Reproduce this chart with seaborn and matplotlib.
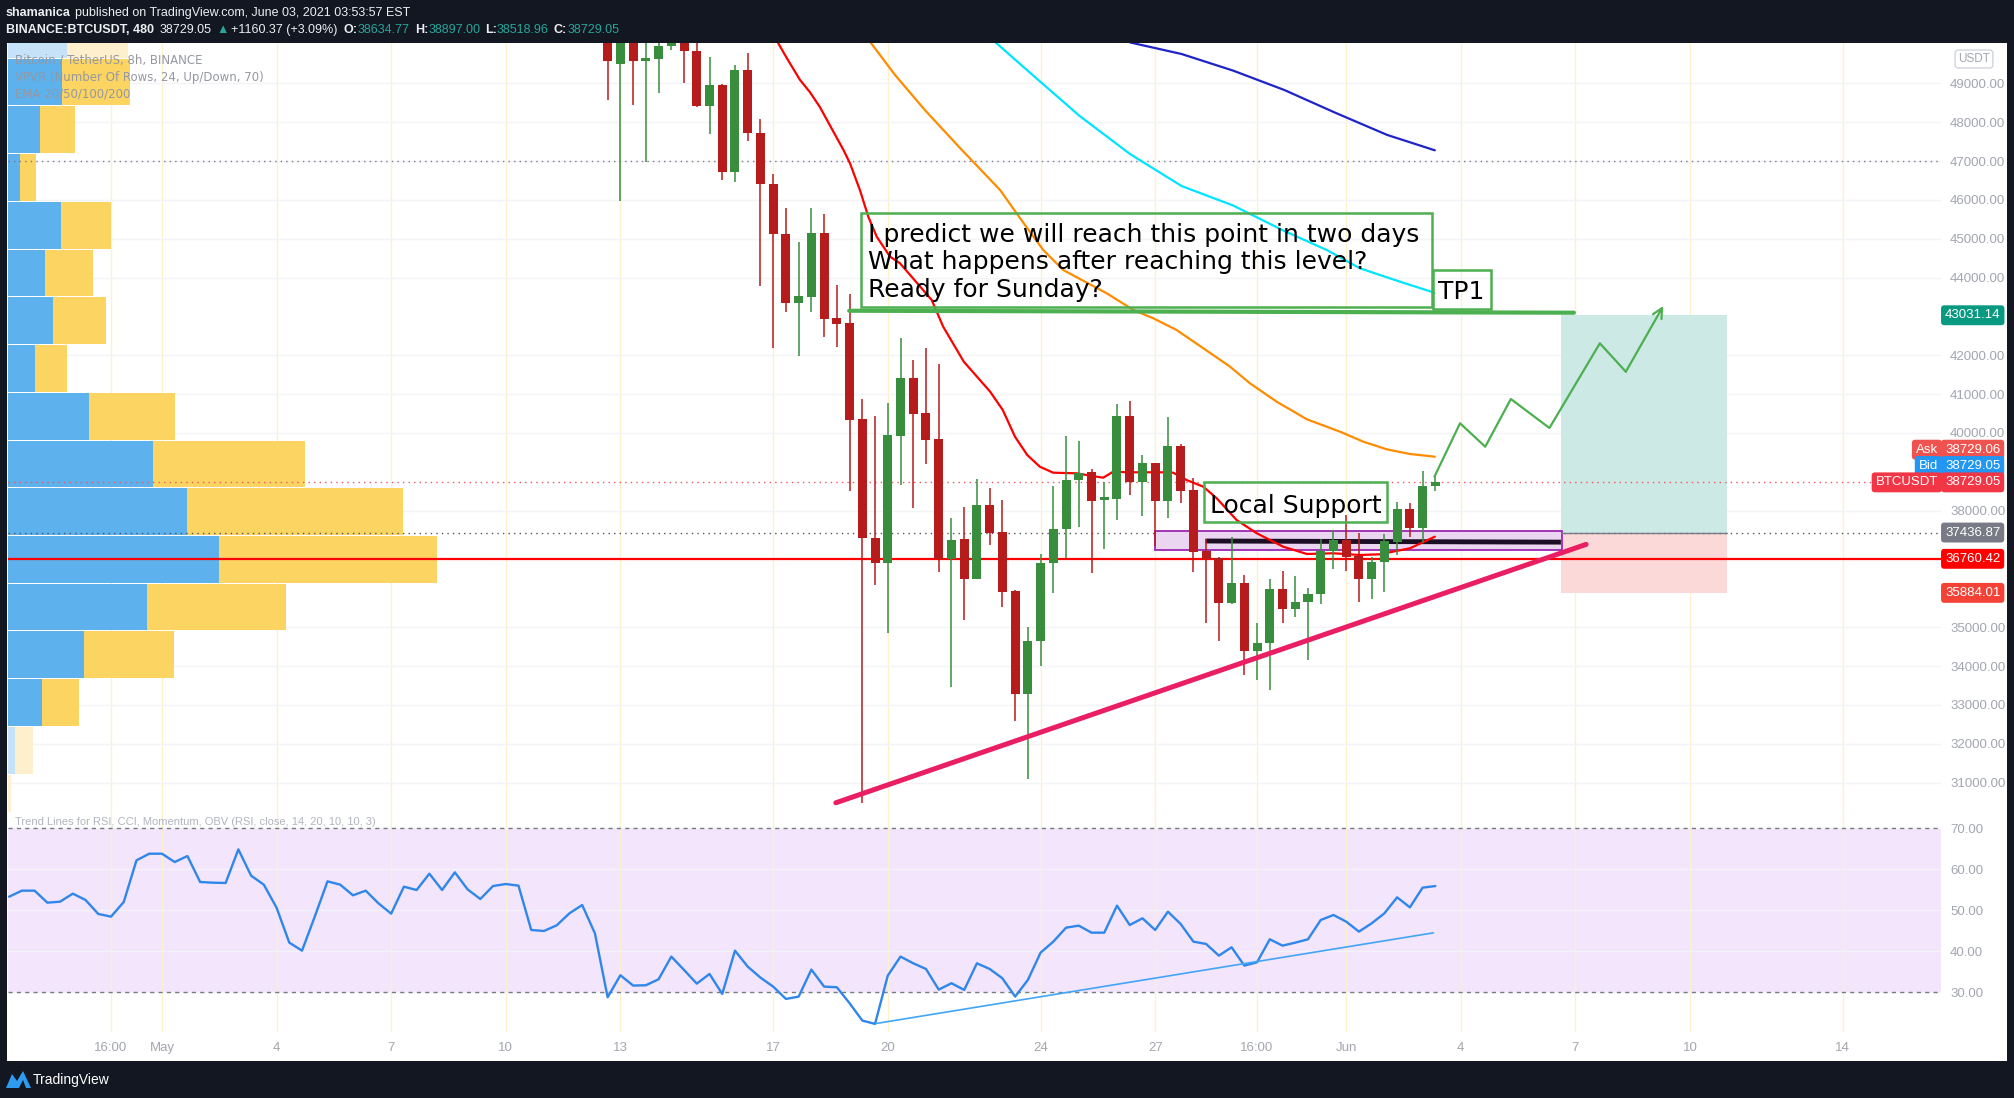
import numpy as np
import pandas as pd
import matplotlib
matplotlib.use("Agg")
import matplotlib.pyplot as plt
import matplotlib.patches as mpatches
import matplotlib.transforms as mtransforms
import seaborn as sns

W, H = 2014, 1098
T0 = pd.Timestamp("2021-05-01")

# ---- 8h candles, BINANCE:BTCUSDT (first visible bar: May 12 16:00) ----
candle_start = "2021-05-12 16:00"
opens = [53500, 49510, 50900, 49586, 49636, 49953, 50300, 49839, 48422, 48954,
         46728, 49346, 47727, 46412, 45122, 43339, 43510, 45149, 42961, 42832,
         40360, 37297, 36661, 39931, 41416, 40515, 39845, 36764, 37271, 36250,
         38146, 37451, 35932, 33289, 34654, 36645, 37529, 38790, 38997, 38276,
         38310, 40438, 38748, 39220, 38258, 39666, 38533, 36962, 36774, 35632,
         36147, 34396, 34585, 35976, 35461, 35641, 35847, 36963, 37246, 36843,
         36233, 36671, 37203, 38035, 37546, 38634.77]
highs = [55000, 51400, 51300, 50400, 50800, 50500, 50600, 50200, 49674, 48991,
         49472, 49788, 48081, 46665, 45792, 44926, 45793, 45638, 43810, 43579,
         40875, 40438, 40772, 42446, 41879, 42188, 41776, 37811, 38095, 38815,
         38584, 38275, 35950, 35005, 36885, 38645, 39923, 39795, 39082, 38730,
         40747, 40824, 39434, 39240, 40413, 39717, 38851, 37271, 36817, 37332,
         36345, 35100, 36233, 36456, 36328, 36001, 37263, 37503, 37889, 37417,
         36817, 37392, 38215, 38190, 39022, 38897.00]
lows = [48561, 45982, 48435, 46968, 48764, 49851, 49004, 48385, 47689, 46526,
        46450, 47525, 43794, 42176, 43124, 41974, 43124, 42480, 42223, 38515,
        30479, 36087, 34842, 38670, 38077, 39210, 36430, 33469, 35194, 36230,
        37125, 35511, 32594, 31100, 34002, 35873, 36774, 37589, 36405, 37005,
        37769, 38413, 37872, 37100, 37804, 38190, 36431, 35100, 34654, 35589,
        33779, 33641, 33384, 35100, 35272, 34156, 35598, 36490, 36456, 35658,
        35718, 35898, 36860, 37315, 37160, 38518.96]
closes = [49586, 50900, 49586, 49624, 49965, 50100, 49826, 48422, 48954, 46728,
          49346, 47714, 46399, 45135, 43339, 43529, 45149, 42943, 42815, 40343,
          37305, 36661, 39948, 41416, 40498, 39828, 36764, 37245, 36250, 38146,
          37434, 35915, 33289, 34645, 36645, 37529, 38790, 38962, 38258, 38318,
          40438, 38748, 39220, 38258, 39666, 38516, 36945, 36756, 35632, 36147,
          34396, 34585, 35976, 35461, 35641, 35847, 36963, 37246, 36817, 36233,
          36671, 37220, 38035, 37546, 38627, 38729.05]

# ---- EMA 20/50/100/200 (days since May 1, value) ----
ema20_day = [16.13, 16.35, 16.70, 16.96, 17.22, 17.84, 18.01, 18.27, 18.49, 18.71,
             19.06, 19.32, 20.15, 20.45, 20.99, 21.68, 22.01, 22.33, 22.65, 22.98,
             23.33, 23.94, 24.47, 24.64, 24.90, 25.34, 26.21, 26.47, 26.82, 27.26,
             27.61, 28.13, 28.66, 29.35, 29.97, 30.66, 31.36, 31.88, 32.67, 33.32]
ema20_val = [50041, 49663, 49093, 48777, 48396, 47286, 46944, 46256, 45569, 45054,
             44539, 44369, 43424, 42737, 41836, 41063, 40592, 39905, 39434, 39132,
             38978, 38962, 38875, 38849, 39004, 38988, 38988, 38978, 38790, 38617,
             38319, 37760, 37418, 37073, 36885, 36903, 36859, 36877, 37032, 37330]
ema50_day = [18.56, 19.19, 19.97, 20.89, 21.94, 22.59, 23.07, 23.59, 24.73, 25.43, 25.95,
             26.56, 27.26, 27.96, 28.48, 29.18, 29.97, 30.84, 31.45, 32.06, 32.67, 33.32]
ema50_val = [50041, 49217, 48316, 47338, 46256, 45355, 44712, 44197, 43597, 43167, 42953,
             42652, 42181, 41707, 41280, 40806, 40353, 40033, 39776, 39580, 39459, 39390]
ema100_day = [21.81, 22.66, 24.01, 25.34, 26.69, 28.04, 29.38, 30.49, 31.36, 32.41, 33.31]
ema100_val = [50067, 49330, 48172, 47183, 46359, 45857, 45201, 44712, 44240, 43895, 43612]
ema200_day = [25.34, 26.69, 28.04, 29.38, 30.73, 32.07, 33.32]
ema200_val = [50056, 49758, 49330, 48831, 48239, 47675, 47278]

# ---- VPVR, 24 rows from 30000 (17 visible), up / down volume (relative) ----
vp_low, vp_step = 30000, 1229
vp_up = [0, 7, 34, 76, 139, 211, 179, 145, 81, 27, 45, 37, 53, 12, 32, 54, 59]
vp_down = [3, 18, 37, 90, 139, 218, 216, 152, 86, 32, 53, 48, 50, 16, 35, 68, 61]
vp_in_value_area = [False, False, True, True, True, True, True, True, True, True,
                    True, True, True, True, True, True, False]

# ---- RSI(14), 8h, from Apr 27 00:00 ----
rsi_start = "2021-04-27 00:00"
rsi = [53.33, 54.80, 54.80, 51.87, 52.11, 54.07, 52.52, 49.11, 48.46, 52.03,
       62.20, 63.82, 63.82, 61.79, 63.25, 56.91, 56.75, 56.67, 64.88, 58.46,
       56.26, 50.65, 42.11, 40.16, 48.46, 57.07, 56.26, 53.66, 54.80, 51.71,
       49.19, 55.77, 54.96, 58.94, 54.96, 59.27, 55.12, 52.76, 55.93, 56.42,
       56.02, 45.20, 44.96, 46.34, 49.27, 51.30, 44.39, 28.78, 34.15, 31.63,
       31.71, 33.17, 38.70, 35.45, 32.11, 34.47, 29.59, 40.16, 36.26, 33.58,
       31.38, 28.37, 28.94, 35.53, 31.38, 31.22, 27.32, 23.09, 22.28, 34.07,
       38.70, 37.07, 35.69, 30.65, 32.20, 30.57, 37.07, 35.69, 33.41, 28.94,
       33.00, 39.67, 42.36, 45.77, 46.26, 44.55, 44.55, 51.14, 46.42, 48.05,
       45.20, 49.67, 46.67, 42.36, 41.79, 38.94, 40.98, 36.50, 37.32, 42.93,
       41.38, 42.11, 42.93, 47.64, 48.86, 47.24, 44.80, 46.83, 49.27, 53.17,
       50.73, 55.53, 55.93]

# ---- drawings ----
support_trend_day, support_trend_val = [17.64, 37.28], [30479, 37132]
rsi_trend_day, rsi_trend_val = [18.71, 33.28], [22.4, 44.5]
tp_line_day, tp_line_val = [17.99, 36.96], [43148, 43097]
path_day = [33.31, 33.98, 34.64, 35.31, 36.32, 37.64, 38.32, 39.30]
path_val = [38875, 40250, 39647, 40875, 40129, 42309, 41578, 43270]
target_price, entry_price, stop_price = 43031.14, 37436.87, 35884.01
level_red = 36760.42
last_price = 38729.05

price_ticks = [31000, 32000, 33000, 34000, 35000, 38000, 40000, 41000, 42000,
               44000, 45000, 46000, 47000, 48000, 49000]
tick_days = [-4 / 3, 0, 3, 6, 9, 12, 16, 19, 23, 26, 28 + 2 / 3, 31, 34, 37, 40, 44]
tick_labels = ["16:00", "May", "4", "7", "10", "13", "17", "20", "24", "27",
               "16:00", "Jun", "4", "7", "10", "14"]

cx = np.asarray((pd.date_range(candle_start, periods=len(opens), freq="8h") - T0) / pd.Timedelta(days=1))
rx = np.asarray((pd.date_range(rsi_start, periods=len(rsi), freq="8h") - T0) / pd.Timedelta(days=1))

sns.set_style("white")
plt.rcParams["font.family"] = ["DejaVu Sans"]
LIB = ["Liberation Sans", "DejaVu Sans"]
GRAY = "#a3a6af"

fig = plt.figure(figsize=(W / 100, H / 100), dpi=100)
fig.patch.set_facecolor("#131722")
fig.add_artist(mpatches.Rectangle((7 / W, 1 - 1061 / H), 2000 / W, 1018 / H,
                                  transform=fig.transFigure, fc="white", ec="none", zorder=-10))

ax = fig.add_axes([8 / W, 1 - 812 / H, 1933 / W, 769 / H])
ax_rsi = fig.add_axes([8 / W, 1 - 1032 / H, 1933 / W, 220 / H])
XLIM = (-4.03, 46.57)
for a in (ax, ax_rsi):
    a.set_facecolor("none")
    for s in a.spines.values():
        s.set_visible(False)
    a.set_xlim(*XLIM)
    a.set_xticks(tick_days)
    a.grid(True, axis="x", color="#fdf1cc", lw=1)
    a.grid(True, axis="y", color="#f3f4f7", lw=1)
    a.set_axisbelow(True)
    a.yaxis.tick_right()
    a.tick_params(axis="y", length=0, pad=6.5, labelsize=9.5, labelcolor=GRAY)

# ---------------- main pane ----------------
ax.set_ylim(30242, 50041)
ax.set_yticks(price_ticks)
ax.set_yticklabels([f"{v:.2f}" for v in price_ticks], family=LIB)
ax.tick_params(axis="x", length=0, labelbottom=False)

# volume profile
dpp = (XLIM[1] - XLIM[0]) / 1933
vp_b = vp_low + np.arange(len(vp_up)) * vp_step
up_w = np.array(vp_up) * dpp
dn_w = np.array(vp_down) * dpp
blue_c = ["#5db1ec" if v else "#c6e2f8" for v in vp_in_value_area]
yel_c = ["#fbd462" if v else "#fef0cc" for v in vp_in_value_area]
ax.barh(vp_b, up_w, left=XLIM[0], height=vp_step - 26, align="edge", color=blue_c, lw=0, zorder=1)
ax.barh(vp_b, dn_w, left=XLIM[0] + up_w, height=vp_step - 26, align="edge", color=yel_c, lw=0, zorder=1)

# horizontal levels
ax.axhline(47000, color="#787b86", ls=(0, (1, 3)), lw=1, zorder=2)
ax.axhline(entry_price, color="#50535e", ls=(0, (1, 3)), lw=1, zorder=2)
ax.axhline(last_price, color="#f7525f", ls=(0, (1, 3)), lw=1, zorder=2)
ax.axhline(level_red, color="#ff0000", lw=1.6, zorder=3)

# support zone
ax.add_patch(mpatches.Rectangle((26.0, 36988), 10.64, 489, fc="#ead6f1", ec="#9c27b0", lw=1.3, zorder=2))
ax.plot([27.32, 36.62], [37219, 37190], color="#1c0e24", lw=3.5, zorder=3, solid_capstyle="butt")

# long position box
ax.add_patch(mpatches.Rectangle((36.62, entry_price), 4.35, target_price - entry_price, fc="#cce9e6", ec="none", zorder=1.5))
ax.add_patch(mpatches.Rectangle((36.62, stop_price), 4.35, entry_price - stop_price, fc="#fcd9d9", ec="none", zorder=1.5))
ax.plot([36.62, 40.97], [entry_price, entry_price], color="#787b86", lw=1, zorder=2)

# EMAs
for d, v, c in [(ema200_day, ema200_val, "#1e24c8"), (ema100_day, ema100_val, "#00e5ff"),
                (ema50_day, ema50_val, "#ff8c00"), (ema20_day, ema20_val, "#ff0000")]:
    sns.lineplot(x=d, y=v, ax=ax, color=c, lw=1.6, zorder=3, errorbar=None, legend=False)

# candles
cols = np.where(np.array(closes) >= np.array(opens), "#388e3c", "#b71c1c")
o, c = np.array(opens), np.array(closes)
ax.vlines(cx, lows, highs, colors=cols, lw=1.1, zorder=4)
ax.bar(cx, np.maximum(np.abs(c - o), 70), bottom=np.minimum(o, c), width=0.236, color=cols, lw=0, zorder=5)

# trend lines and projection
sns.lineplot(x=support_trend_day, y=support_trend_val, ax=ax, color="#e91e63", lw=3.6, zorder=6, errorbar=None)
sns.lineplot(x=tp_line_day, y=tp_line_val, ax=ax, color="#4caf50", lw=3, zorder=6, errorbar=None)
sns.lineplot(x=path_day[:-1], y=path_val[:-1], ax=ax, color="#4caf50", lw=1.6, zorder=6, errorbar=None, sort=False)
ax.annotate("", xy=(path_day[-1], path_val[-1]), xytext=(path_day[-2], path_val[-2]),
            arrowprops=dict(arrowstyle="->,head_length=0.7,head_width=0.35", color="#4caf50", lw=1.6,
                            shrinkA=0, shrinkB=0), zorder=6)
ax.set_xlabel("")
ax.set_ylabel("")

# text notes
box_kw = dict(fc="none", ec="#4caf50", lw=1.8, zorder=7)
ax.add_patch(mpatches.Rectangle((18.30, 43252), 14.95, 2420, **box_kw))
for txt, yb in [("I predict we will reach this point in two days", 44925),
                ("What happens after reaching this level?", 44222),
                ("Ready for Sunday?", 43509)]:
    ax.text(18.49, yb, txt, fontsize=18, color="black", va="baseline", ha="left", zorder=8)
ax.add_patch(mpatches.Rectangle((33.26, 43193), 1.53, 1004, **box_kw))
ax.text(33.40, 43442, "TP1", fontsize=18, color="black", va="baseline", ha="left", zorder=8)
ax.add_patch(mpatches.Rectangle((27.27, 37716), 4.81, 1015, **box_kw))
ax.text(27.43, 37933, "Local Support", fontsize=18, color="black", va="baseline", ha="left", zorder=8)

# price axis labels
tr = mtransforms.blended_transform_factory(ax.transAxes, ax.transData)
def pill(y, text, color, left=False):
    x = 1 - 3 / 1933 if left else 1 + 4 / 1933
    ax.text(x, y, text, transform=tr, ha="right" if left else "left", va="center", fontsize=9.5,
            family=LIB, color="white", clip_on=False, zorder=20,
            bbox=dict(boxstyle="round,pad=0.3,rounding_size=0.25", fc=color, ec="none"))

pill(target_price, "43031.14", "#089981")
pill(39570, "38729.06", "#ef5350")
pill(39570, "Ask", "#ef5350", left=True)
pill(39150, "38729.05", "#2196f3")
pill(39150, "Bid", "#2196f3", left=True)
pill(last_price, "38729.05", "#f23645")
pill(last_price, "BTCUSDT", "#f23645", left=True)
pill(entry_price, "37436.87", "#787b86")
pill(level_red, "36760.42", "#ff0000")
pill(stop_price, "35884.01", "#f44336")
fig.text(1974 / W, 1 - 59 / H, "USDT", fontsize=8.5, color=GRAY, family=LIB, ha="center", va="center",
         bbox=dict(boxstyle="round,pad=0.25", fc="white", ec="#d1d4dc", lw=1))

# ---------------- RSI pane ----------------
ax_rsi.set_ylim(20.3, 74.0)
ax_rsi.set_yticks([30, 40, 50, 60, 70])
ax_rsi.set_yticklabels([f"{v:.2f}" for v in [30, 40, 50, 60, 70]], family=LIB)
ax_rsi.axhspan(30, 70, fc="#f3e5fc", ec="none", zorder=0)
for lvl in (30, 70):
    ax_rsi.axhline(lvl, color="#787b86", ls=(0, (3, 3)), lw=1, zorder=1)
sns.lineplot(x=rx, y=rsi, ax=ax_rsi, color="#2f86eb", lw=1.7, zorder=3, errorbar=None)
sns.lineplot(x=rsi_trend_day, y=rsi_trend_val, ax=ax_rsi, color="#42a5f5", lw=1.2, zorder=3, errorbar=None)
ax_rsi.set_xticklabels(tick_labels, family=LIB)
ax_rsi.tick_params(axis="x", length=0, pad=7, labelsize=9.5, labelcolor=GRAY)
ax_rsi.set_xlabel("")
ax_rsi.set_ylabel("")

# ---------------- legends / header / footer ----------------
def ftext(x, y, s, **kw):
    return fig.text(x / W, 1 - y / H, s, **kw)

for i, s in enumerate(["Bitcoin / TetherUS, 8h, BINANCE",
                       "VPVR (Number Of Rows, 24, Up/Down, 70)",
                       "EMA 20/50/100/200"]):
    ftext(15, 60 + 17 * i, s, fontsize=8.5, color="#9598a1", va="center", ha="left")
ftext(15, 822, "Trend Lines for RSI, CCI, Momentum, OBV (RSI, close, 14, 20, 10, 10, 3)",
      fontsize=8, color="#b2b5be", va="center", ha="left", family=LIB)

renderer = fig.canvas.get_renderer()
def seq_text(x, y, parts, size=9):
    for s, color, weight, gap in parts:
        t = ftext(x, y, s, fontsize=size, color=color, fontweight=weight, va="center", ha="left", family=LIB)
        x += t.get_window_extent(renderer=renderer).width + gap

WH, TEAL = "#eceef2", "#26a69a"
seq_text(6, 13, [("shamanica", WH, "bold", 4),
                 ("published on TradingView.com, June 03, 2021 03:53:57 EST", WH, "normal", 0)])
seq_text(6, 30, [("BINANCE:BTCUSDT, 480", WH, "bold", 6), ("38729.05", WH, "normal", 4),
                 ("▲", TEAL, "normal", 3), ("+1160.37 (+3.09%)", WH, "normal", 6),
                 ("O:", WH, "bold", 0), ("38634.77", TEAL, "normal", 5),
                 ("H:", WH, "bold", 0), ("38897.00", TEAL, "normal", 5),
                 ("L:", WH, "bold", 0), ("38518.96", TEAL, "normal", 5),
                 ("C:", WH, "bold", 0), ("38729.05", TEAL, "normal", 0)])

logo = [(6, 1088), (12, 1074), (17, 1081), (23, 1071), (31, 1088), (26, 1088), (23, 1080), (19, 1088)]
fig.add_artist(mpatches.Polygon([(x / W, 1 - y / H) for x, y in logo], closed=True,
                                transform=fig.transFigure, fc="#2e9bf0", ec="none"))
ftext(33, 1080, "TradingView", fontsize=10, color="white", va="center", ha="left", family=LIB)

fig.savefig("out.png", dpi=100, facecolor=fig.get_facecolor())
